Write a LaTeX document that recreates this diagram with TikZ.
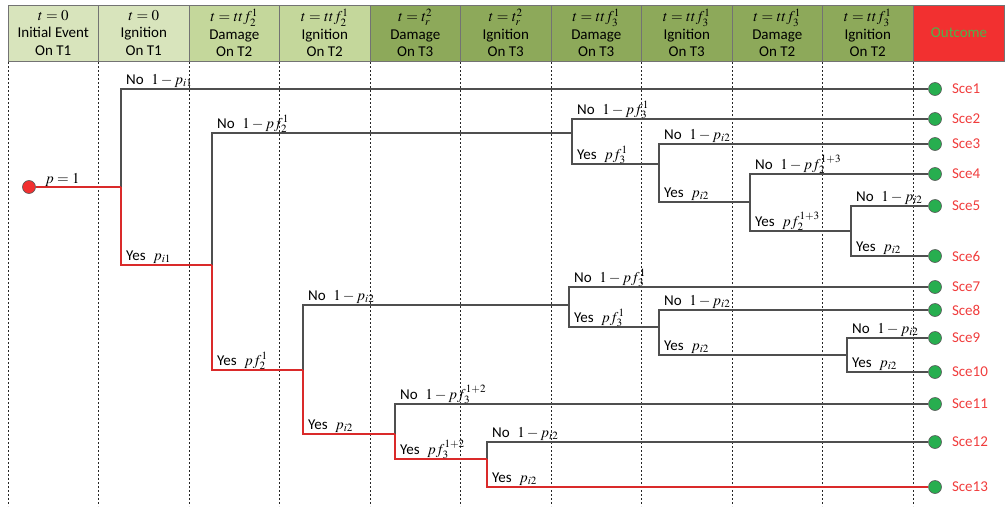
\documentclass[tikz,border=0pt]{standalone}
\usepackage{mathptmx}
\usepackage[no-math]{fontspec}
\setmainfont{Carlito}
\usepackage{xcolor}
\definecolor{HdrLight}{HTML}{D8E4BC}
\definecolor{HdrMid}{HTML}{C4D79B}
\definecolor{HdrDark}{HTML}{8DA95A}
\definecolor{OutRed}{HTML}{F23030}
\definecolor{OutGreen}{HTML}{4FB24A}
\definecolor{LineGray}{HTML}{4F4F4F}
\definecolor{PathRed}{HTML}{DA2A2A}
\definecolor{DotGreen}{HTML}{27AE4F}
\definecolor{SceRed}{HTML}{F03C3C}
\colorlet{hlight}{HdrLight}
\colorlet{hmid}{HdrMid}
\colorlet{hdark}{HdrDark}
\colorlet{outred}{OutRed}
\colorlet{outgreen}{OutGreen}
\colorlet{linegray}{LineGray}
\colorlet{pathred}{PathRed}
\colorlet{dotgreen}{DotGreen}
\colorlet{scered}{SceRed}
\usepackage{tikz}
\usetikzlibrary{positioning,calc}

\begin{document}
\begin{tikzpicture}[x=1pt,y=-1pt,every node/.style={font=\fontsize{15}{17.5}\selectfont},
  hdr/.style={draw=black!55,line width=0.8pt,minimum width=90.5pt,minimum height=56pt,align=center,inner sep=0pt},
  guide/.style={draw=black!85,line width=0.6pt,dash pattern=on 2pt off 2pt},
  branch/.style={draw=linegray,line width=1.1pt},
  hot/.style={draw=pathred,line width=1.5pt},
  endpt/.style={circle,draw=black!65,line width=0.6pt,fill=dotgreen,minimum size=13pt,inner sep=0pt},
  startpt/.style={circle,draw=black!65,line width=0.6pt,fill=outred,minimum size=13pt,inner sep=0pt},
  tag/.style={anchor=base west,inner sep=0pt},
  sce/.style={text=scered,inner sep=0pt}]
\useasboundingbox (0,0) rectangle (1006,506);
\foreach \x in {8,98.5,189,279.5,370,460.5,551,641.5,732,822.5,913} \draw[guide] (\x,62) -- (\x,506);
\foreach [count=\i] \c/\txt in {hlight/{$t=0$\\Initial Event\\On T1},hlight/{$t=0$\\Ignition\\On T1},hmid/{$t=ttf_2^1$\\Damage\\On T2},hmid/{$t=ttf_2^1$\\Ignition\\On T2},hdark/{$t=t_r^2$\\Damage\\On T3},hdark/{$t=t_r^2$\\Ignition\\On T3},hdark/{$t=ttf_3^1$\\Damage\\On T3},hdark/{$t=ttf_3^1$\\Ignition\\On T3},hdark/{$t=ttf_3^1$\\Damage\\On T2},hdark/{$t=ttf_3^1$\\Ignition\\On T2}}
  \node[hdr,fill=\c] (h\i) at ({8+90.5*(\i-0.5)},33) {\txt};
\node[hdr,fill=outred,text=outgreen,right=0pt of h10] (h11) {Outcome};
\node[startpt] (s) at (29,187) {};
\foreach \k/\y in {1/89,2/119,3/144,4/174,5/206,6/256,7/287,8/310,9/338,10/372,11/404,12/442,13/487}{
  \node[endpt] (e\k) at (935,\y) {};
  \node[sce,anchor=west,right=10pt of e\k] (t\k) {Sce\k};}
\coordinate (b1) at (121,187);\coordinate (b2) at (212,265);\coordinate (b3) at (572,133);\coordinate (b4) at (659,164);
\coordinate (b5) at (750,202);\coordinate (b6) at (851,231);\coordinate (b7) at (303,370);\coordinate (b8) at (569,305);
\coordinate (b9) at (659,327);\coordinate (b10) at (847,355);\coordinate (b11) at (395,434);\coordinate (b12) at (487,459);
\draw[branch] (b1) |- (e1);\draw[branch] (b2) |- (b3);\draw[branch] (b3) |- (e2);\draw[branch] (b3) |- (b4);
\draw[branch] (b4) |- (e3);\draw[branch] (b4) |- (b5);\draw[branch] (b5) |- (e4);\draw[branch] (b5) |- (b6);
\draw[branch] (b6) |- (e5);\draw[branch] (b6) |- (e6);\draw[branch] (b7) |- (b8);\draw[branch] (b8) |- (e7);
\draw[branch] (b8) |- (b9);\draw[branch] (b9) |- (e8);\draw[branch] (b9) |- (b10);\draw[branch] (b10) |- (e9);
\draw[branch] (b10) |- (e10);\draw[branch] (b11) |- (e11);\draw[branch] (b12) |- (e12);
\draw[hot] (s) -- (b1);\draw[hot] (b1) |- (b2);\draw[hot] (b2) |- (b7);\draw[hot] (b7) |- (b11);\draw[hot] (b11) |- (b12);\draw[hot] (b12) |- (e13);
\node[tag] (lp) at ([shift={(16pt,4pt)}]s) {$p=1$};
\foreach \b/\up/\dn/\nolab/\yeslab in {1/e1/b2/{1-p_{i1}}/{p_{i1}},2/b3/b7/{1-pf_2^1}/{pf_2^1},3/e2/b4/{1-pf_3^1}/{pf_3^1},
  4/e3/b5/{1-p_{i2}}/{p_{i2}},5/e4/b6/{1-pf_2^{1+3}}/{pf_2^{1+3}},6/e5/e6/{1-p_{i2}}/{p_{i2}},7/b8/b11/{1-p_{i2}}/{p_{i2}},
  8/e7/b9/{1-pf_3^1}/{pf_3^1},9/e8/b10/{1-p_{i2}}/{p_{i2}},10/e9/e10/{1-p_{i2}}/{p_{i2}},11/e11/b12/{1-pf_3^{1+2}}/{pf_3^{1+2}},12/e12/e13/{1-p_{i2}}/{p_{i2}}}{
  \node[tag] (no\b) at ([shift={(5pt,5pt)}]b\b |- \up) {No\enspace$\nolab$};
  \node[tag] (yes\b) at ([shift={(5pt,5pt)}]b\b |- \dn) {Yes\enspace$\yeslab$};}
\end{tikzpicture}
\end{document}
